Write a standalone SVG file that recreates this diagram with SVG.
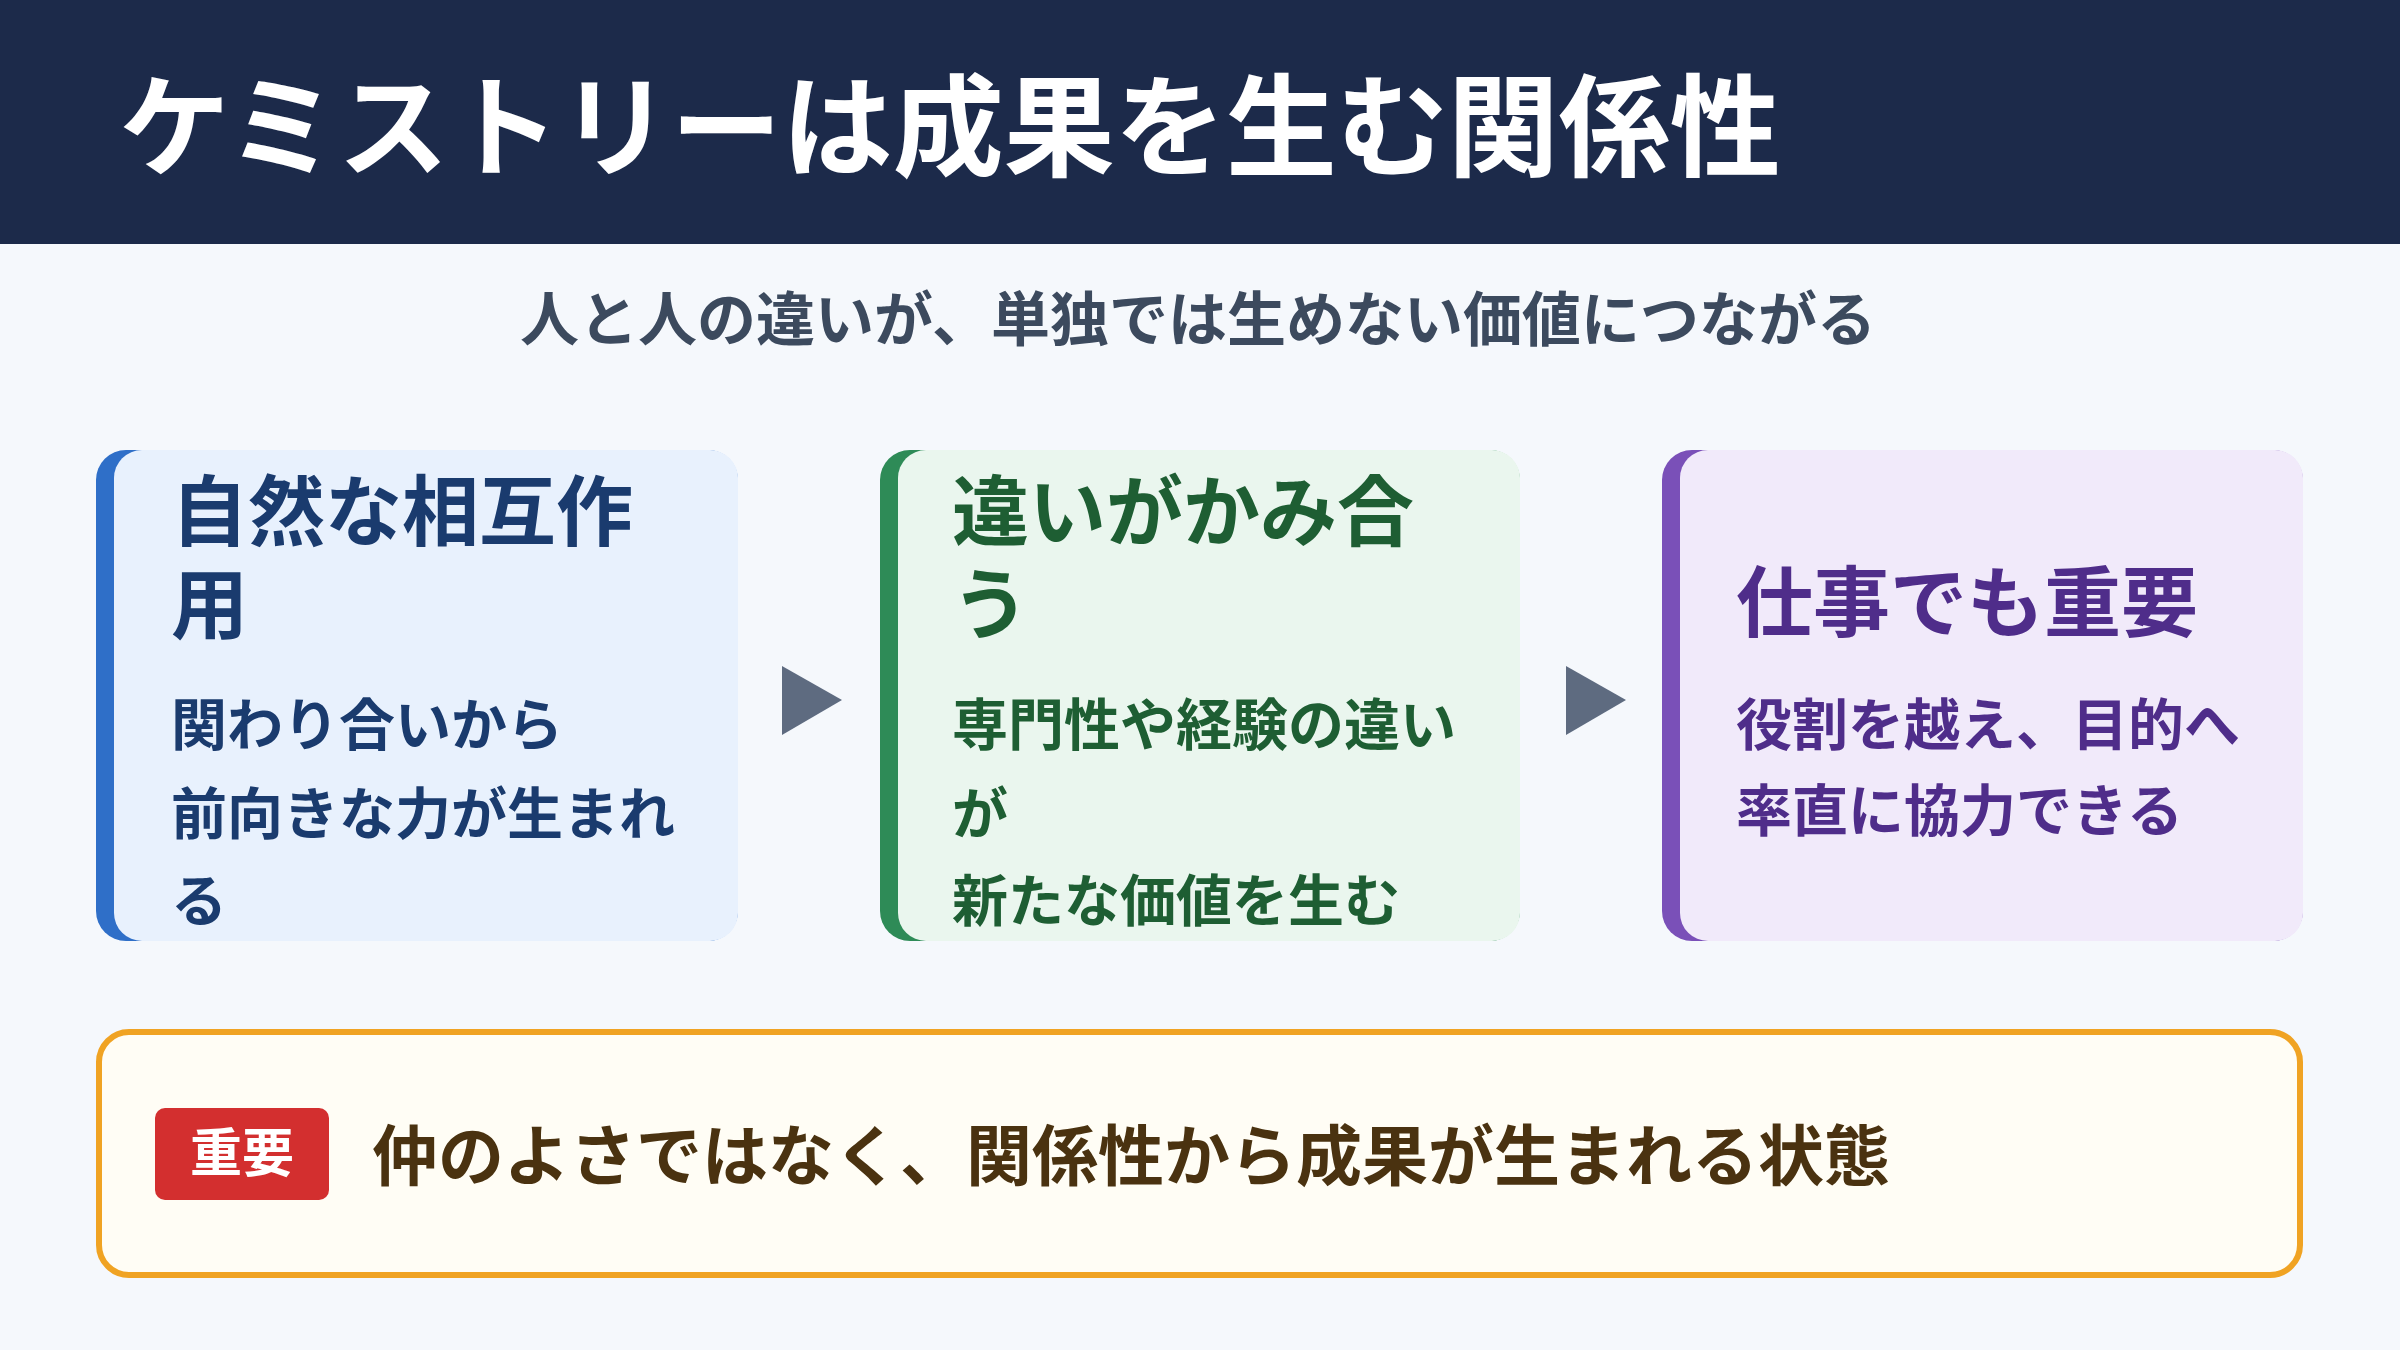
<svg xmlns="http://www.w3.org/2000/svg" width="2400" height="1350" viewBox="0 0 2400 1350">
<style>
text{font-family:"Noto Sans CJK JP","Noto Sans",sans-serif;font-weight:700}
.t{font-size:77px}
.b{font-size:56px}
</style>
<rect width="2400" height="1350" fill="#f5f8fc"/>
<g id="header"><rect width="2400" height="244" fill="#1c2a4a"/>
<text x="119" y="168" font-size="111" font-weight="900" fill="#fff">ケミストリーは成果を生む関係性</text></g>
<text id="subtitle" x="1198" y="341" font-size="59" fill="#3c4a5e" text-anchor="middle">人と人の違いが、単独では生めない価値につながる</text>
<g id="card1"><rect x="96" y="450" width="642" height="491" rx="30" fill="#2f6fc8"/><rect x="114" y="450" width="624" height="491" rx="28" fill="#e8f1fd"/>
<text class="t" x="171" y="540" fill="#1a3b6e">自然な相互作</text><text class="t" x="171" y="633" fill="#1a3b6e">用</text>
<text class="b" x="171" y="745" fill="#1a3b6e">関わり合いから</text><text class="b" x="171" y="834" fill="#1a3b6e">前向きな力が生まれ</text><text class="b" x="171" y="921" fill="#1a3b6e">る</text></g>
<g id="card2"><rect x="880" y="450" width="640" height="491" rx="30" fill="#2e8b57"/><rect x="898" y="450" width="622" height="491" rx="28" fill="#eaf6ee"/>
<text class="t" x="952" y="540" fill="#1e5e33">違いがかみ合</text><text class="t" x="952" y="633" fill="#1e5e33">う</text>
<text class="b" x="952" y="745" fill="#1e5e33">専門性や経験の違い</text><text class="b" x="952" y="834" fill="#1e5e33">が</text><text class="b" x="952" y="921" fill="#1e5e33">新たな価値を生む</text></g>
<g id="card3"><rect x="1662" y="450" width="641" height="491" rx="30" fill="#7a50b8"/><rect x="1680" y="450" width="623" height="491" rx="28" fill="#f1eafa"/>
<text class="t" x="1736" y="631" fill="#4f2d8a">仕事でも重要</text>
<text class="b" x="1736" y="745" fill="#4f2d8a">役割を越え、目的へ</text><text class="b" x="1736" y="831" fill="#4f2d8a">率直に協力できる</text></g>
<g id="connectors" fill="#5e6b80"><polygon points="782,666 842,700 782,735"/><polygon points="1566,666 1626,700 1566,735"/></g>
<g id="note"><rect x="99" y="1032" width="2201" height="243" rx="30" fill="#fffdf5" stroke="#f0a323" stroke-width="6"/>
<rect x="155" y="1108" width="174" height="92" rx="10" fill="#d32f2f"/><text x="242" y="1172" font-size="52" fill="#fff" text-anchor="middle">重要</text>
<text x="372" y="1180" font-size="66" fill="#4a3210">仲のよさではなく、関係性から成果が生まれる状態</text></g>
</svg>
